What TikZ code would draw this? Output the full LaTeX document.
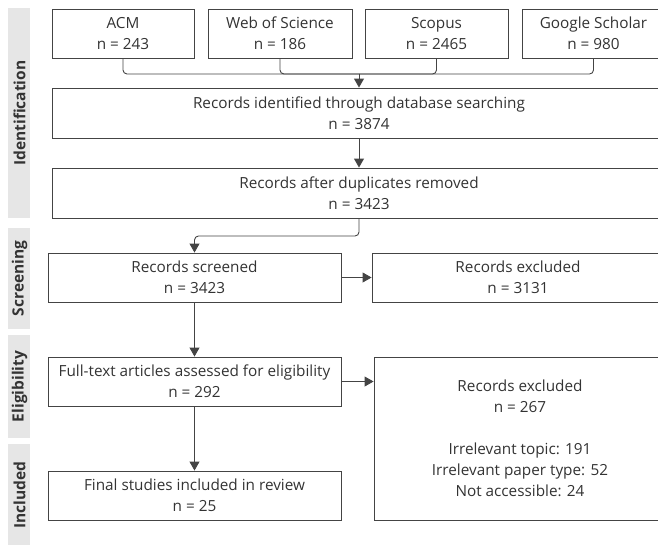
\documentclass[tikz,border=0pt]{standalone}
\usepackage{fontspec}
\setmainfont{Open Sans}
\usetikzlibrary{arrows.meta}
\definecolor{inkgray}{HTML}{333333}
\definecolor{linegray}{HTML}{444444}
\definecolor{bargray}{HTML}{E6E6E6}
\tikzset{
  box/.style={draw=linegray,line width=0.9pt,align=center,inner sep=0pt,
    text=inkgray,font=\fontsize{15.3}{21}\selectfont},
  conn/.style={draw=linegray,line width=0.9pt},
  arrow/.style={conn,-{Triangle[length=9pt,width=10pt]}},
  sidelabel/.style={rotate=90,text=inkgray,font=\fontsize{15.5}{17}\selectfont\bfseries}
}
\begin{document}
\begin{tikzpicture}[x=1pt,y=-1pt]
    \useasboundingbox (0,0) rectangle (658,544);
    \clip (0,0) rectangle (658,544);
    % phase bars on the left
    \foreach \top/\bot/\phase in {8/218/Identification,228/329/Screening,
      335/438/Eligibility,444/546/Included}
    {
      \fill[bargray] (8,\top) rectangle (30,\bot);
      \node[sidelabel] (side\phase) at (19.5,{(\top+\bot)/2}) {\phase};
    }
    % databases
    \foreach \db/\x/\w/\title/\n in {acm/123/142/ACM/243,
      wos/280/144/Web of Science/186, scopus/436.5/143/Scopus/2465,
      gscholar/593.5/143/Google Scholar/980}
      \node[box,minimum width=\w,minimum height=49] (\db) at (\x,33.5)
        {\title\\n = \n};
    \node[box,minimum width=614,minimum height=50] (ident) at (359,113)
      {Records identified through database searching\\n = 3874};
    \node[box,minimum width=614,minimum height=50] (dupl) at (359,193)
      {Records after duplicates removed\\n = 3423};
    \node[box,minimum width=293,minimum height=49] (screen) at (194.5,277.5)
      {Records screened\\n = 3423};
    \node[box,minimum width=292,minimum height=49] (excl) at (518,277.5)
      {Records excluded\\n = 3131};
    \node[box,minimum width=293,minimum height=49] (full) at (194.5,381.5)
      {Full-text articles assessed for eligibility\\n = 292};
    \node[box,minimum width=292,minimum height=163] (exclfull) at (520,438.5)
      {Records excluded\\n = 267\\[21pt]Irrelevant topic: 191\\
       Irrelevant paper type: 52\\Not accessible: 24};
    \node[box,minimum width=293,minimum height=49] (final) at (194.5,495.5)
      {Final studies included in review\\n = 25};
    % connectors
    \coordinate (merge) at (359,74);
    \coordinate (bend) at (194.5,236);
    \foreach \db in {acm,wos,scopus,gscholar}
      \draw[conn,rounded corners=4pt] (\db.south) |- (merge);
    \draw[arrow] (merge) -- (ident.north);
    \draw[arrow] (ident.south) -- (dupl.north);
    \draw[arrow,rounded corners=4pt] (dupl.south) |- (bend) -- (screen.north);
    \draw[arrow] (screen.east) -- (excl.west);
    \draw[arrow] (screen.south) -- (full.north);
    \draw[arrow] (full.east) -- (exclfull.west |- full.east);
    \draw[arrow] (full.south) -- (final.north);
\end{tikzpicture}
\end{document}
